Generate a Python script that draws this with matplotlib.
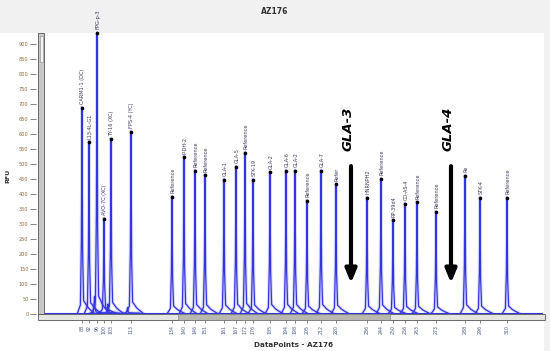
import numpy as np
import matplotlib
matplotlib.use("Agg")
import matplotlib.pyplot as plt
from matplotlib.patches import Rectangle

# peak positions (data points), heights (RFU) and peak calls
peak_pos = [3380, 3450, 3530, 3600, 3670, 3870, 4280, 4400, 4510, 4610,
            4800, 4920, 5010, 5090, 5260, 5420, 5510, 5630, 5770, 5920,
            6230, 6370, 6490, 6610, 6730, 6920, 7210, 7360, 7630]
peak_rfu = [687, 573, 937, 317, 583, 607, 390, 523, 477, 463,
            447, 490, 537, 447, 473, 477, 477, 377, 477, 433,
            387, 450, 313, 367, 373, 340, 460, 387, 387]
peak_names = ["CARM1-1 (DC)", "L13-4L-G1", "FPG-p-3", "AVO-7C (XC)", "TY-16 (XC)",
              "FPS-4 (YC)", "Reference", "P-DH-2", "Reference", "Reference",
              "GLA-1", "GLA-5", "Reference", "STK-19", "GLA-2",
              "GLA-6", "GLA-2", "Reference", "GLA-7", "Refer",
              "HNRNPH2", "Reference", "RP-39d4", "CO-AS-4", "Reference",
              "Reference", "Re", "STK-4", "Reference"]
size_labels = ["88", "92", "96", "100", "103", "113", "134", "140", "146", "151",
               "161", "167", "172", "176", "185", "194", "198", "205", "212", "220",
               "236", "244", "250", "256", "263", "273", "288", "296", "310"]

# small side bumps at the feet of the first peaks
minor_pos = [3505, 3640, 3835]
minor_rfu = [55, 30, 18]

# missing alleles marked with arrows
arrow_pos = [6070, 7070]
arrow_names = ["GLA-3", "GLA-4"]
arrow_top = 493
arrow_bottom = 103

# peak profile (offset in data points, fraction of peak height)
prof_dx = [-45, -16, -6, 0, 6, 16, 30, 55, 85, 120]
prof_fy = [0.0, 0.04, 0.35, 1.0, 0.3, 0.06, 0.05, 0.03, 0.015, 0.0]

blue = "#3434e0"

fig = plt.figure(figsize=(5.5, 3.51), dpi=100)
fig.patch.set_facecolor("white")
ax = fig.add_axes([44 / 550, 1 - 314 / 351, 499 / 550, 281 / 351])

# header band and right panel, kept behind the axes
fig.patches.append(Rectangle((0, 1 - 33 / 351), 1, 33 / 351, transform=fig.transFigure,
                             facecolor="#f1f1f1", edgecolor="none", zorder=-2))
fig.patches.append(Rectangle((544 / 550, 0), 6 / 550, 1, transform=fig.transFigure,
                             facecolor="#f1f1f1", edgecolor="none", zorder=-2))

ax.set_xlim(3000, 7990)
ax.set_ylim(0, 937)

# baseline
ax.plot([3000, 7990], [3, 3], color=blue, lw=0.8, zorder=2)

for p, h in zip(peak_pos + minor_pos, peak_rfu + minor_rfu):
    xs = [p + d for d in prof_dx]
    ys = [3 + h * f for f in prof_fy]
    ax.plot(xs, ys, color=blue, lw=2.4, alpha=0.18, zorder=2, solid_joinstyle="round")
    ax.plot(xs, ys, color=blue, lw=0.9, zorder=3, clip_on=False)

ax.plot(peak_pos, peak_rfu, "o", color="black", ms=1.6, zorder=4, clip_on=False)
for p, h, name in zip(peak_pos, peak_rfu, peak_names):
    ax.text(p + 8, h + 12, name, rotation=90, ha="center", va="bottom",
            fontsize=3.6, color="#3a3a5a", clip_on=False, zorder=5)

for p, name in zip(arrow_pos, arrow_names):
    ax.annotate("", xy=(p, arrow_bottom), xytext=(p, arrow_top),
                arrowprops=dict(arrowstyle="-|>,head_width=0.33,head_length=0.8",
                                color="black", lw=3.0, shrinkA=0, shrinkB=0))
    ax.text(p - 25, arrow_top + 125, name, rotation=90, ha="center", va="center",
            fontsize=9.5, fontweight="bold", fontstyle="italic", color="black")

for s in ax.spines.values():
    s.set_visible(False)

ax.set_yticks(np.arange(0, 901, 50))
ax.tick_params(axis="y", direction="out", length=4.3, width=0.5, color="#555555",
               labelsize=3.6, labelcolor="#8a6a3a", pad=1)
ax.spines["left"].set_position(("outward", 5.8))
ax.spines["bottom"].set_position(("outward", 4.3))
ax.set_xticks(peak_pos)
ax.set_xticklabels(size_labels, rotation=90, fontsize=3.4, color="#4a5a8a")
ax.tick_params(axis="x", direction="out", length=2.5, width=0.5, color="#555555", pad=1)

# scroll bars
fig.patches.append(Rectangle((38 / 550, 1 - 314 / 351), 6 / 550, 281 / 351,
                             transform=fig.transFigure, facecolor="#c8c8c8",
                             edgecolor="#555555", lw=0.6, zorder=3))
fig.patches.append(Rectangle((39.5 / 550, 1 - 62 / 351), 3 / 550, 26 / 351,
                             transform=fig.transFigure, facecolor="#f4f4f4",
                             edgecolor="#888888", lw=0.4, zorder=3))
fig.patches.append(Rectangle((38 / 550, 1 - 320 / 351), 507 / 550, 6 / 351,
                             transform=fig.transFigure, facecolor="#e6e6e0",
                             edgecolor="#555555", lw=0.6, zorder=3))
fig.patches.append(Rectangle((178 / 550, 1 - 320 / 351), 212 / 550, 6 / 351,
                             transform=fig.transFigure, facecolor="#b8b8b0",
                             edgecolor="#777777", lw=0.4, zorder=3))

fig.text(275 / 550, 1 - 12 / 351, "AZ176", ha="center", va="center",
         fontsize=5.5, fontweight="bold", color="#333333")
fig.text(294 / 550, 1 - 345 / 351, "DataPoints - AZ176", ha="center", va="center",
         fontsize=5.2, fontweight="bold", color="#333333")
fig.text(8 / 550, 1 - 176 / 351, "RFU", ha="center", va="center", rotation=90,
         fontsize=4.5, fontweight="bold", color="#333333")

fig.savefig("out.png", dpi=100)
